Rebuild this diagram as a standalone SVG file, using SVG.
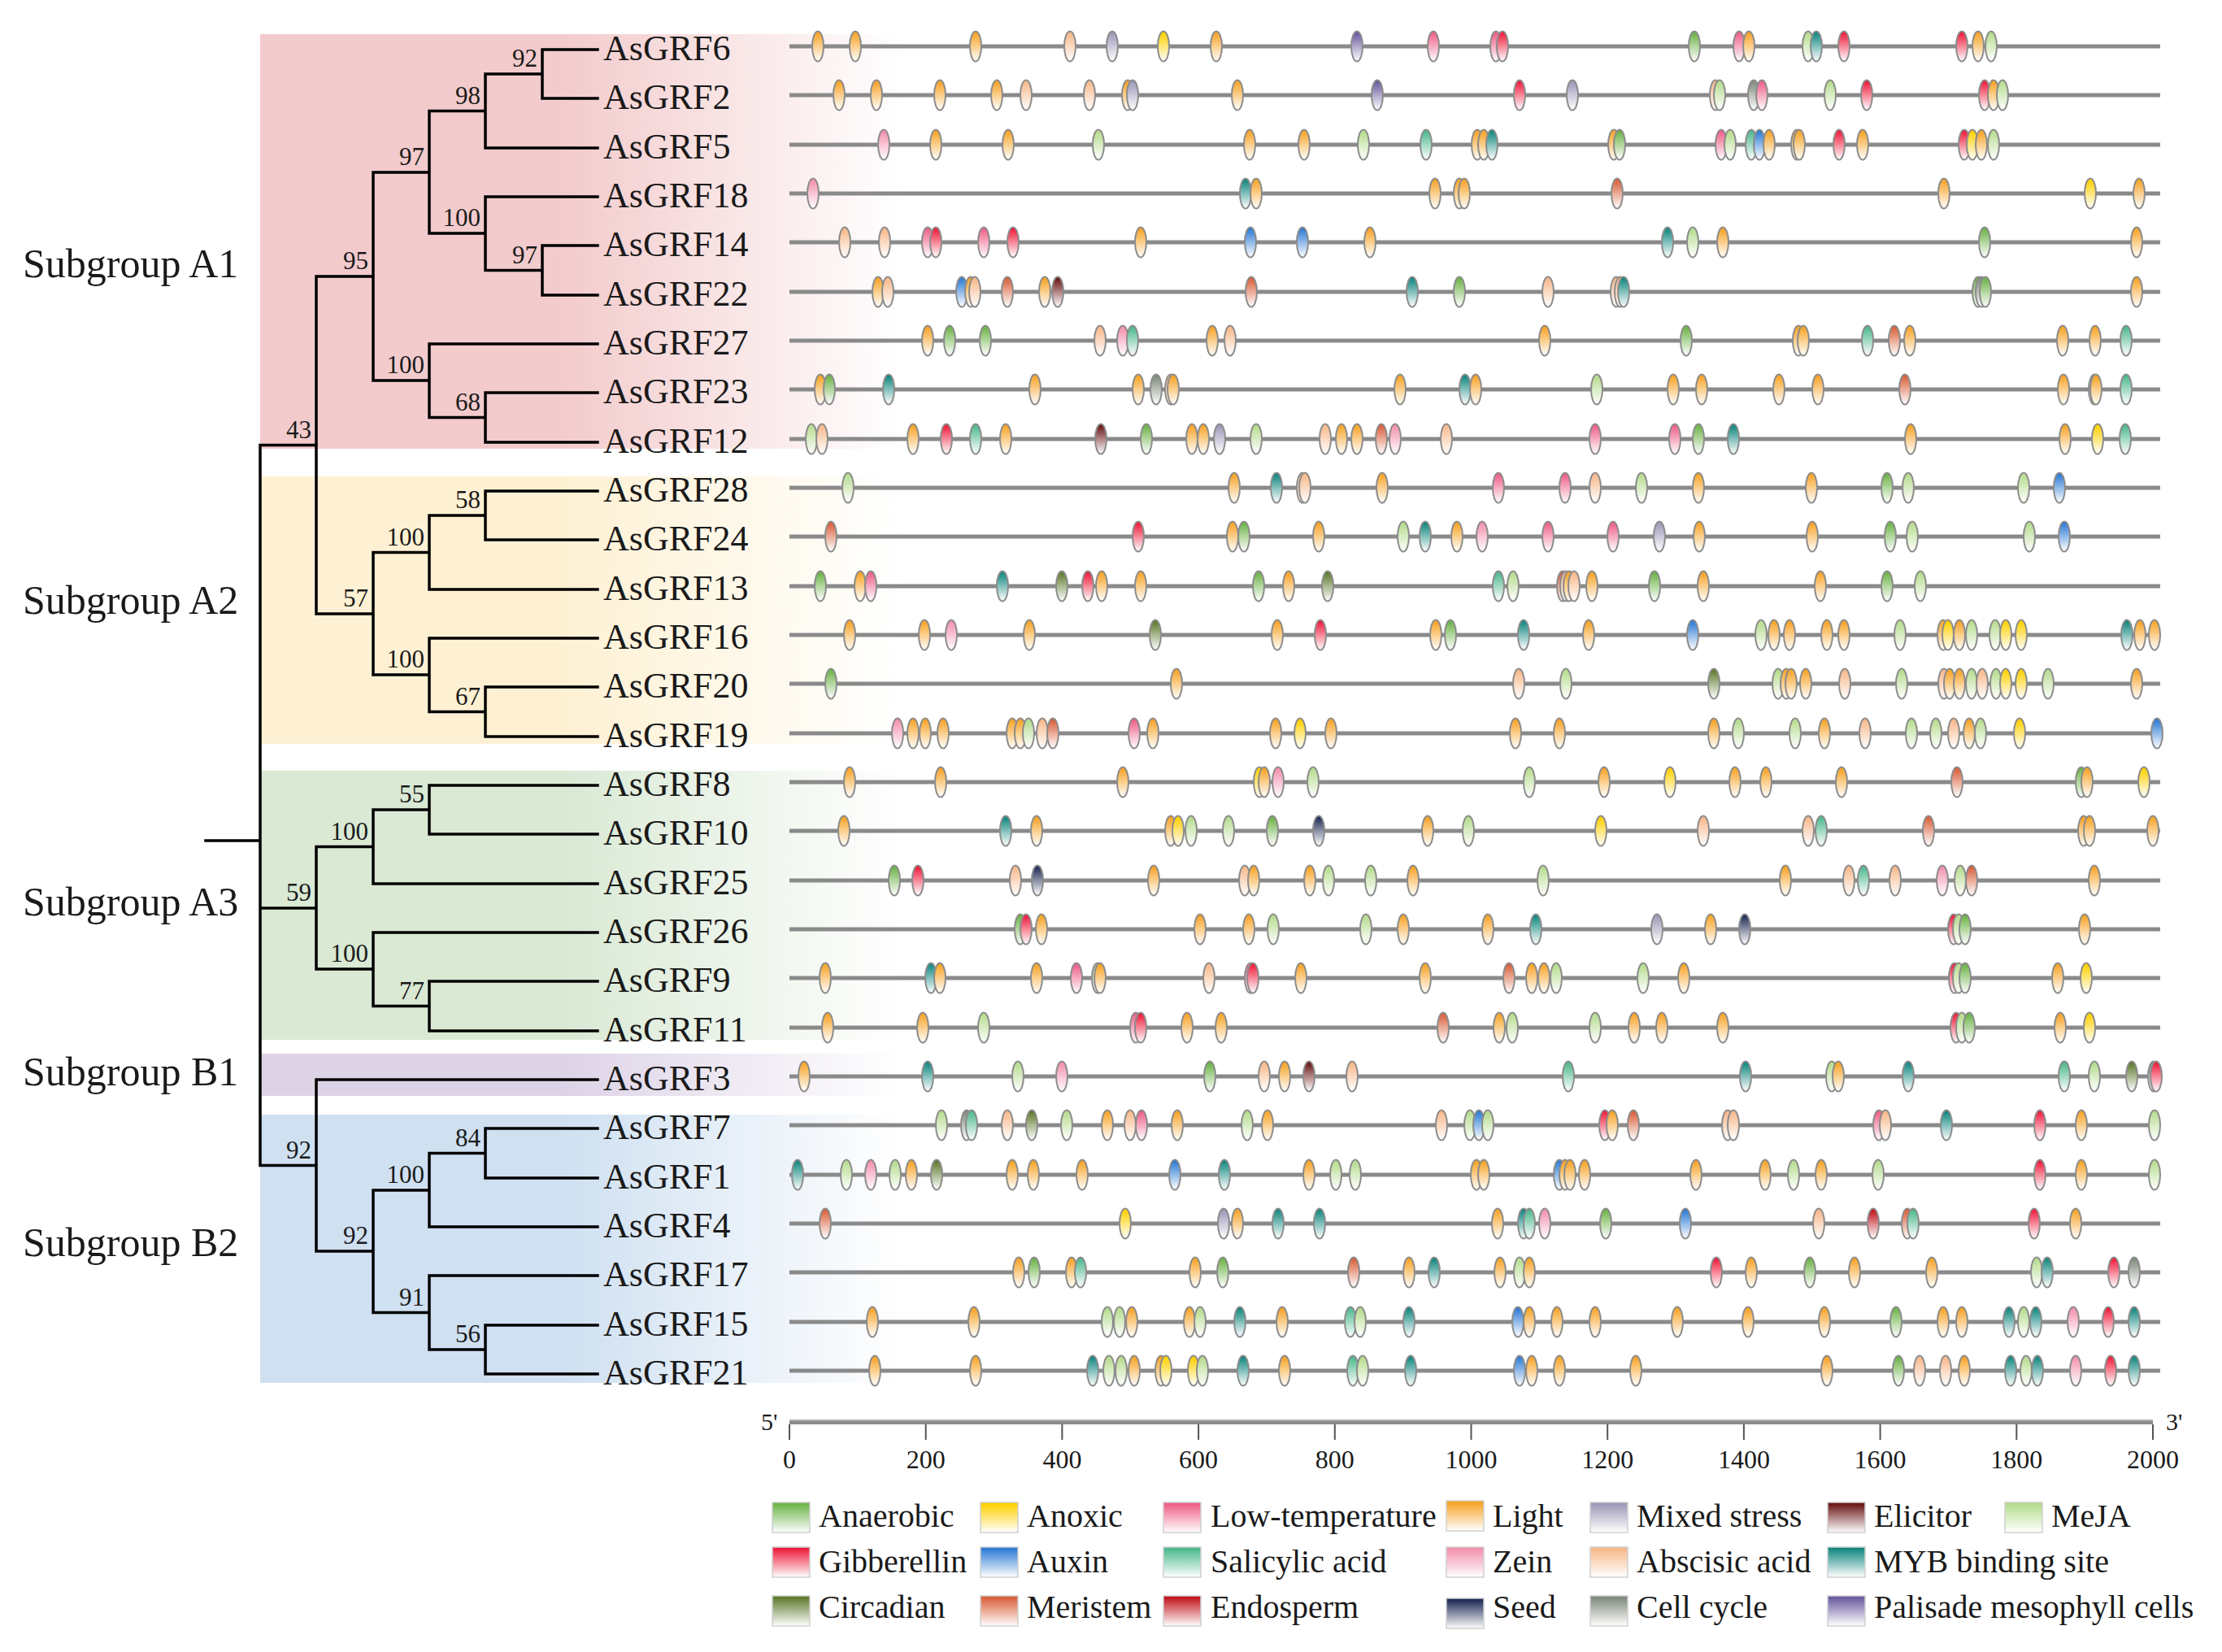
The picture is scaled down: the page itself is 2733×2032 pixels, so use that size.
<svg xmlns="http://www.w3.org/2000/svg" xmlns:xlink="http://www.w3.org/1999/xlink" width="2733" height="2032" viewBox="0 0 2733 2032">
<style>
text{font-family:"Liberation Serif","Times New Roman",serif;fill:#1a1a1a}
.lbl{font-size:44px}
.sg{font-size:50px}
.bs{font-size:31px;text-anchor:end}
.ax{font-size:32px;text-anchor:middle}
.lg{font-size:40px}
.trk{stroke:#8a8a8a;stroke-width:5}
.m{stroke:#8c8c8c;stroke-width:2}
.sw{stroke:#d0d0d0;stroke-width:1.5}
.tree{fill:none;stroke:#000;stroke-width:3.5;stroke-linecap:square}
</style>
<defs>
<linearGradient id="bgA1" x1="0" y1="0" x2="1" y2="0"><stop offset="0" stop-color="#f3cbcc"/><stop offset="0.47" stop-color="#f3cbcc"/><stop offset="1" stop-color="#f3cbcc" stop-opacity="0"/></linearGradient>
<linearGradient id="bgA2" x1="0" y1="0" x2="1" y2="0"><stop offset="0" stop-color="#fef1d3"/><stop offset="0.47" stop-color="#fef1d3"/><stop offset="1" stop-color="#fef1d3" stop-opacity="0"/></linearGradient>
<linearGradient id="bgA3" x1="0" y1="0" x2="1" y2="0"><stop offset="0" stop-color="#d9e9d4"/><stop offset="0.47" stop-color="#d9e9d4"/><stop offset="1" stop-color="#d9e9d4" stop-opacity="0"/></linearGradient>
<linearGradient id="bgB1" x1="0" y1="0" x2="1" y2="0"><stop offset="0" stop-color="#ddd3e7"/><stop offset="0.47" stop-color="#ddd3e7"/><stop offset="1" stop-color="#ddd3e7" stop-opacity="0"/></linearGradient>
<linearGradient id="bgB2" x1="0" y1="0" x2="1" y2="0"><stop offset="0" stop-color="#cfe0f1"/><stop offset="0.47" stop-color="#cfe0f1"/><stop offset="1" stop-color="#cfe0f1" stop-opacity="0"/></linearGradient>
<linearGradient id="gAN" x1="0" y1="0" x2="0" y2="1"><stop offset="0.05" stop-color="#6cb347"/><stop offset="1" stop-color="#fff"/></linearGradient>
<linearGradient id="gAX" x1="0" y1="0" x2="0" y2="1"><stop offset="0.05" stop-color="#ffd000"/><stop offset="1" stop-color="#fff"/></linearGradient>
<linearGradient id="gLT" x1="0" y1="0" x2="0" y2="1"><stop offset="0.05" stop-color="#ee5f88"/><stop offset="1" stop-color="#fff"/></linearGradient>
<linearGradient id="gLI" x1="0" y1="0" x2="0" y2="1"><stop offset="0.05" stop-color="#f7a325"/><stop offset="1" stop-color="#fff"/></linearGradient>
<linearGradient id="gMS" x1="0" y1="0" x2="0" y2="1"><stop offset="0.05" stop-color="#9c99b8"/><stop offset="1" stop-color="#fff"/></linearGradient>
<linearGradient id="gEL" x1="0" y1="0" x2="0" y2="1"><stop offset="0.05" stop-color="#6a1616"/><stop offset="1" stop-color="#fff"/></linearGradient>
<linearGradient id="gME" x1="0" y1="0" x2="0" y2="1"><stop offset="0.05" stop-color="#b5dc8d"/><stop offset="1" stop-color="#fff"/></linearGradient>
<linearGradient id="gGI" x1="0" y1="0" x2="0" y2="1"><stop offset="0.05" stop-color="#ef1c3c"/><stop offset="1" stop-color="#fff"/></linearGradient>
<linearGradient id="gAU" x1="0" y1="0" x2="0" y2="1"><stop offset="0.05" stop-color="#2d7bd5"/><stop offset="1" stop-color="#fff"/></linearGradient>
<linearGradient id="gSA" x1="0" y1="0" x2="0" y2="1"><stop offset="0.05" stop-color="#4db88d"/><stop offset="1" stop-color="#fff"/></linearGradient>
<linearGradient id="gZE" x1="0" y1="0" x2="0" y2="1"><stop offset="0.05" stop-color="#f390ad"/><stop offset="1" stop-color="#fff"/></linearGradient>
<linearGradient id="gAB" x1="0" y1="0" x2="0" y2="1"><stop offset="0.05" stop-color="#f8b88a"/><stop offset="1" stop-color="#fff"/></linearGradient>
<linearGradient id="gMY" x1="0" y1="0" x2="0" y2="1"><stop offset="0.05" stop-color="#11877f"/><stop offset="1" stop-color="#fff"/></linearGradient>
<linearGradient id="gCI" x1="0" y1="0" x2="0" y2="1"><stop offset="0.05" stop-color="#5e7a2c"/><stop offset="1" stop-color="#fff"/></linearGradient>
<linearGradient id="gMR" x1="0" y1="0" x2="0" y2="1"><stop offset="0.05" stop-color="#d95f3a"/><stop offset="1" stop-color="#fff"/></linearGradient>
<linearGradient id="gEN" x1="0" y1="0" x2="0" y2="1"><stop offset="0.05" stop-color="#c0141c"/><stop offset="1" stop-color="#fff"/></linearGradient>
<linearGradient id="gSE" x1="0" y1="0" x2="0" y2="1"><stop offset="0.05" stop-color="#1f2b55"/><stop offset="1" stop-color="#fff"/></linearGradient>
<linearGradient id="gCC" x1="0" y1="0" x2="0" y2="1"><stop offset="0.05" stop-color="#7f8a7b"/><stop offset="1" stop-color="#fff"/></linearGradient>
<linearGradient id="gPA" x1="0" y1="0" x2="0" y2="1"><stop offset="0.05" stop-color="#6a5a9f"/><stop offset="1" stop-color="#fff"/></linearGradient>
<ellipse id="AN" class="m" rx="7" ry="18.5" fill="url(#gAN)"/>
<ellipse id="AX" class="m" rx="7" ry="18.5" fill="url(#gAX)"/>
<ellipse id="LT" class="m" rx="7" ry="18.5" fill="url(#gLT)"/>
<ellipse id="LI" class="m" rx="7" ry="18.5" fill="url(#gLI)"/>
<ellipse id="MS" class="m" rx="7" ry="18.5" fill="url(#gMS)"/>
<ellipse id="EL" class="m" rx="7" ry="18.5" fill="url(#gEL)"/>
<ellipse id="ME" class="m" rx="7" ry="18.5" fill="url(#gME)"/>
<ellipse id="GI" class="m" rx="7" ry="18.5" fill="url(#gGI)"/>
<ellipse id="AU" class="m" rx="7" ry="18.5" fill="url(#gAU)"/>
<ellipse id="SA" class="m" rx="7" ry="18.5" fill="url(#gSA)"/>
<ellipse id="ZE" class="m" rx="7" ry="18.5" fill="url(#gZE)"/>
<ellipse id="AB" class="m" rx="7" ry="18.5" fill="url(#gAB)"/>
<ellipse id="MY" class="m" rx="7" ry="18.5" fill="url(#gMY)"/>
<ellipse id="CI" class="m" rx="7" ry="18.5" fill="url(#gCI)"/>
<ellipse id="MR" class="m" rx="7" ry="18.5" fill="url(#gMR)"/>
<ellipse id="EN" class="m" rx="7" ry="18.5" fill="url(#gEN)"/>
<ellipse id="SE" class="m" rx="7" ry="18.5" fill="url(#gSE)"/>
<ellipse id="CC" class="m" rx="7" ry="18.5" fill="url(#gCC)"/>
<ellipse id="PA" class="m" rx="7" ry="18.5" fill="url(#gPA)"/>
</defs>
<rect width="2733" height="2032" fill="#fff"/>

<g id="subgroup-backgrounds">
<rect x="320" y="42" width="790" height="510" fill="url(#bgA1)"/>
<rect x="320" y="586" width="790" height="329" fill="url(#bgA2)"/>
<rect x="320" y="948" width="790" height="331" fill="url(#bgA3)"/>
<rect x="320" y="1296" width="790" height="52" fill="url(#bgB1)"/>
<rect x="320" y="1371" width="790" height="330" fill="url(#bgB2)"/>
</g>

<g id="subgroup-labels">
<text class="sg" x="28" y="341">Subgroup A1</text>
<text class="sg" x="28" y="755">Subgroup A2</text>
<text class="sg" x="28" y="1126">Subgroup A3</text>
<text class="sg" x="28" y="1335">Subgroup B1</text>
<text class="sg" x="28" y="1545">Subgroup B2</text>
</g>

<g id="connectors">
<path class="tree" d="M667 61H735M667 121H735M667 61V121M597 91H667M597 182H735M597 91V182M528 136.5H597
M667 302H735M667 363H735M667 302V363M597 332.5H667M597 242H735M597 242V332.5M528 287H597M528 136.5V287M459 212H528
M597 483H735M597 544H735M597 483V544M528 513.5H597M528 423H735M528 423V513.5M459 468H528M459 212V468M389 340H459
M597 604H735M597 664H735M597 604V664M528 634H597M528 725H735M528 634V725M459 679.5H528
M597 845H735M597 906H735M597 845V906M528 875.5H597M528 785H735M528 785V875.5M459 830H528M459 679.5V830M389 755H459
M389 340V755M320 547.5H389
M528 966H735M528 1026H735M528 966V1026M459 996H528M459 1087H735M459 996V1087M389 1041.5H459
M528 1207H735M528 1268H735M528 1207V1268M459 1237.5H528M459 1147H735M459 1147V1237.5M389 1192H459M389 1041.5V1192M320 1117H389
M597 1388H735M597 1449H735M597 1388V1449M528 1418.5H597M528 1509H735M528 1418.5V1509M459 1464H528
M597 1630H735M597 1690H735M597 1630V1690M528 1660H597M528 1569H735M528 1569V1660M459 1614.5H528M459 1464V1614.5M389 1539H459
M389 1328H735M389 1328V1539M320 1433.5H389M320 547.5V1433.5M253 1034H320"/>
</g>

<g id="bootstrap">
<text class="bs" x="661" y="82">92</text>
<text class="bs" x="591" y="127.5">98</text>
<text class="bs" x="522" y="203">97</text>
<text class="bs" x="591" y="278">100</text>
<text class="bs" x="661" y="323.5">97</text>
<text class="bs" x="453" y="331">95</text>
<text class="bs" x="522" y="459">100</text>
<text class="bs" x="591" y="504.5">68</text>
<text class="bs" x="383" y="538.5">43</text>
<text class="bs" x="591" y="625">58</text>
<text class="bs" x="522" y="670.5">100</text>
<text class="bs" x="453" y="746">57</text>
<text class="bs" x="522" y="821">100</text>
<text class="bs" x="591" y="866.5">67</text>
<text class="bs" x="522" y="987">55</text>
<text class="bs" x="453" y="1032.5">100</text>
<text class="bs" x="383" y="1108">59</text>
<text class="bs" x="453" y="1183">100</text>
<text class="bs" x="522" y="1228.5">77</text>
<text class="bs" x="383" y="1424.5">92</text>
<text class="bs" x="591" y="1409.5">84</text>
<text class="bs" x="522" y="1455">100</text>
<text class="bs" x="453" y="1530">92</text>
<text class="bs" x="522" y="1605.5">91</text>
<text class="bs" x="591" y="1651">56</text>
</g>

<g id="AsGRF6" transform="translate(0,57)"><text class="lbl" x="742" y="17">AsGRF6</text><line class="trk" x1="971" x2="2657"/>
<use href="#LI" x="1006"/><use href="#LI" x="1052"/><use href="#LI" x="1200"/><use href="#AB" x="1316"/><use href="#MS" x="1368"/><use href="#AX" x="1431"/><use href="#LI" x="1496"/><use href="#PA" x="1669"/><use href="#LT" x="1763"/><use href="#LT" x="1840"/><use href="#GI" x="1848"/><use href="#AN" x="2084"/><use href="#LT" x="2139"/><use href="#LI" x="2151"/><use href="#ME" x="2224"/><use href="#MY" x="2234"/><use href="#GI" x="2268"/><use href="#GI" x="2413"/><use href="#LI" x="2433"/><use href="#ME" x="2449"/></g>

<g id="AsGRF2" transform="translate(0,117)"><text class="lbl" x="742" y="17">AsGRF2</text><line class="trk" x1="971" x2="2657"/>
<use href="#LI" x="1032"/><use href="#LI" x="1078"/><use href="#LI" x="1156"/><use href="#LI" x="1226"/><use href="#AB" x="1262"/><use href="#AB" x="1340"/><use href="#LI" x="1387"/><use href="#MS" x="1393"/><use href="#LI" x="1522"/><use href="#PA" x="1694"/><use href="#GI" x="1869"/><use href="#MS" x="1934"/><use href="#AB" x="2110"/><use href="#ME" x="2115"/><use href="#CC" x="2157"/><use href="#LT" x="2167"/><use href="#ME" x="2251"/><use href="#GI" x="2296"/><use href="#GI" x="2441"/><use href="#LI" x="2452"/><use href="#ME" x="2463"/></g>

<g id="AsGRF5" transform="translate(0,178)"><text class="lbl" x="742" y="17">AsGRF5</text><line class="trk" x1="971" x2="2657"/>
<use href="#ZE" x="1087"/><use href="#LI" x="1151"/><use href="#LI" x="1240"/><use href="#ME" x="1351"/><use href="#LI" x="1537"/><use href="#LI" x="1604"/><use href="#ME" x="1677"/><use href="#SA" x="1754"/><use href="#LI" x="1817"/><use href="#LI" x="1825"/><use href="#MY" x="1835"/><use href="#LI" x="1985"/><use href="#AN" x="1992"/><use href="#LT" x="2117"/><use href="#ME" x="2128"/><use href="#SA" x="2154"/><use href="#AU" x="2164"/><use href="#LI" x="2176"/><use href="#LI" x="2210"/><use href="#LI" x="2213"/><use href="#GI" x="2262"/><use href="#LI" x="2291"/><use href="#GI" x="2416"/><use href="#AX" x="2426"/><use href="#LI" x="2437"/><use href="#ME" x="2452"/></g>

<g id="AsGRF18" transform="translate(0,238)"><text class="lbl" x="742" y="17">AsGRF18</text><line class="trk" x1="971" x2="2657"/>
<use href="#ZE" x="1000"/><use href="#MY" x="1532"/><use href="#LI" x="1545"/><use href="#LI" x="1765"/><use href="#LI" x="1795"/><use href="#LI" x="1801"/><use href="#MR" x="1989"/><use href="#LI" x="2391"/><use href="#AX" x="2571"/><use href="#LI" x="2631"/></g>

<g id="AsGRF14" transform="translate(0,298)"><text class="lbl" x="742" y="17">AsGRF14</text><line class="trk" x1="971" x2="2657"/>
<use href="#AB" x="1039"/><use href="#AB" x="1088"/><use href="#LT" x="1141"/><use href="#GI" x="1151"/><use href="#LT" x="1210"/><use href="#GI" x="1246"/><use href="#LI" x="1403"/><use href="#AU" x="1538"/><use href="#AU" x="1602"/><use href="#LI" x="1685"/><use href="#MY" x="2051"/><use href="#ME" x="2082"/><use href="#LI" x="2119"/><use href="#AN" x="2441"/><use href="#LI" x="2628"/></g>

<g id="AsGRF22" transform="translate(0,359)"><text class="lbl" x="742" y="17">AsGRF22</text><line class="trk" x1="971" x2="2657"/>
<use href="#LI" x="1080"/><use href="#AB" x="1092"/><use href="#AU" x="1183"/><use href="#LI" x="1194"/><use href="#AB" x="1199"/><use href="#MR" x="1239"/><use href="#LI" x="1285"/><use href="#EL" x="1301"/><use href="#MR" x="1539"/><use href="#MY" x="1737"/><use href="#AN" x="1795"/><use href="#AB" x="1904"/><use href="#AB" x="1988"/><use href="#AB" x="1993"/><use href="#MY" x="1997"/><use href="#AN" x="2433"/><use href="#CC" x="2437"/><use href="#AN" x="2442"/><use href="#LI" x="2628"/></g>

<g id="AsGRF27" transform="translate(0,419)"><text class="lbl" x="742" y="17">AsGRF27</text><line class="trk" x1="971" x2="2657"/>
<use href="#LI" x="1141"/><use href="#AN" x="1168"/><use href="#AN" x="1212"/><use href="#AB" x="1353"/><use href="#ZE" x="1381"/><use href="#SA" x="1393"/><use href="#LI" x="1491"/><use href="#AB" x="1513"/><use href="#LI" x="1900"/><use href="#AN" x="2074"/><use href="#LI" x="2212"/><use href="#LI" x="2218"/><use href="#SA" x="2297"/><use href="#MR" x="2330"/><use href="#LI" x="2349"/><use href="#LI" x="2537"/><use href="#LI" x="2577"/><use href="#SA" x="2615"/></g>

<g id="AsGRF23" transform="translate(0,479)"><text class="lbl" x="742" y="17">AsGRF23</text><line class="trk" x1="971" x2="2657"/>
<use href="#LI" x="1009"/><use href="#AN" x="1020"/><use href="#MY" x="1093"/><use href="#LI" x="1273"/><use href="#LI" x="1400"/><use href="#CC" x="1422"/><use href="#AB" x="1440"/><use href="#LI" x="1443"/><use href="#LI" x="1722"/><use href="#MY" x="1802"/><use href="#LI" x="1815"/><use href="#ME" x="1964"/><use href="#LI" x="2058"/><use href="#LI" x="2093"/><use href="#LI" x="2188"/><use href="#LI" x="2236"/><use href="#MR" x="2343"/><use href="#LI" x="2538"/><use href="#AB" x="2576"/><use href="#LI" x="2578"/><use href="#SA" x="2615"/></g>

<g id="AsGRF12" transform="translate(0,540)"><text class="lbl" x="742" y="17">AsGRF12</text><line class="trk" x1="971" x2="2657"/>
<use href="#ME" x="998"/><use href="#AB" x="1011"/><use href="#LI" x="1123"/><use href="#GI" x="1164"/><use href="#SA" x="1200"/><use href="#LI" x="1237"/><use href="#EL" x="1354"/><use href="#AN" x="1410"/><use href="#LI" x="1466"/><use href="#LI" x="1480"/><use href="#MS" x="1500"/><use href="#ME" x="1545"/><use href="#AB" x="1630"/><use href="#LI" x="1650"/><use href="#LI" x="1669"/><use href="#MR" x="1699"/><use href="#ZE" x="1716"/><use href="#AB" x="1779"/><use href="#LT" x="1962"/><use href="#LT" x="2060"/><use href="#AN" x="2089"/><use href="#MY" x="2132"/><use href="#LI" x="2350"/><use href="#LI" x="2540"/><use href="#AX" x="2580"/><use href="#SA" x="2614"/></g>

<g id="AsGRF28" transform="translate(0,600)"><text class="lbl" x="742" y="17">AsGRF28</text><line class="trk" x1="971" x2="2657"/>
<use href="#ME" x="1043"/><use href="#LI" x="1518"/><use href="#MY" x="1570"/><use href="#AB" x="1602"/><use href="#AB" x="1605"/><use href="#LI" x="1700"/><use href="#LT" x="1843"/><use href="#LT" x="1925"/><use href="#AB" x="1962"/><use href="#ME" x="2019"/><use href="#LI" x="2089"/><use href="#LI" x="2228"/><use href="#AN" x="2321"/><use href="#ME" x="2347"/><use href="#ME" x="2489"/><use href="#AU" x="2533"/></g>

<g id="AsGRF24" transform="translate(0,660)"><text class="lbl" x="742" y="17">AsGRF24</text><line class="trk" x1="971" x2="2657"/>
<use href="#MR" x="1022"/><use href="#GI" x="1400"/><use href="#LI" x="1516"/><use href="#AN" x="1530"/><use href="#LI" x="1622"/><use href="#ME" x="1726"/><use href="#MY" x="1753"/><use href="#LI" x="1792"/><use href="#ZE" x="1823"/><use href="#LT" x="1904"/><use href="#LT" x="1984"/><use href="#MS" x="2041"/><use href="#LI" x="2090"/><use href="#LI" x="2229"/><use href="#AN" x="2325"/><use href="#ME" x="2352"/><use href="#ME" x="2496"/><use href="#AU" x="2539"/></g>

<g id="AsGRF13" transform="translate(0,721)"><text class="lbl" x="742" y="17">AsGRF13</text><line class="trk" x1="971" x2="2657"/>
<use href="#AN" x="1009"/><use href="#LI" x="1058"/><use href="#LT" x="1071"/><use href="#MY" x="1233"/><use href="#CI" x="1306"/><use href="#GI" x="1338"/><use href="#LI" x="1355"/><use href="#LI" x="1403"/><use href="#AN" x="1548"/><use href="#LI" x="1585"/><use href="#CI" x="1633"/><use href="#SA" x="1843"/><use href="#ME" x="1861"/><use href="#MR" x="1922"/><use href="#AB" x="1926"/><use href="#LI" x="1930"/><use href="#AB" x="1936"/><use href="#LI" x="1958"/><use href="#AN" x="2035"/><use href="#LI" x="2095"/><use href="#LI" x="2239"/><use href="#AN" x="2321"/><use href="#ME" x="2362"/></g>

<g id="AsGRF16" transform="translate(0,781)"><text class="lbl" x="742" y="17">AsGRF16</text><line class="trk" x1="971" x2="2657"/>
<use href="#LI" x="1045"/><use href="#LI" x="1137"/><use href="#ZE" x="1170"/><use href="#LI" x="1266"/><use href="#CI" x="1421"/><use href="#LI" x="1571"/><use href="#GI" x="1624"/><use href="#LI" x="1766"/><use href="#AN" x="1784"/><use href="#MY" x="1874"/><use href="#LI" x="1954"/><use href="#AU" x="2082"/><use href="#ME" x="2166"/><use href="#LI" x="2182"/><use href="#LI" x="2201"/><use href="#LI" x="2247"/><use href="#LI" x="2268"/><use href="#ME" x="2337"/><use href="#LI" x="2390"/><use href="#AX" x="2396"/><use href="#LI" x="2410"/><use href="#ME" x="2425"/><use href="#ME" x="2454"/><use href="#AX" x="2467"/><use href="#AX" x="2486"/><use href="#MY" x="2616"/><use href="#LI" x="2632"/><use href="#LI" x="2650"/></g>

<g id="AsGRF20" transform="translate(0,841)"><text class="lbl" x="742" y="17">AsGRF20</text><line class="trk" x1="971" x2="2657"/>
<use href="#AN" x="1022"/><use href="#LI" x="1447"/><use href="#AB" x="1868"/><use href="#ME" x="1926"/><use href="#CI" x="2108"/><use href="#ME" x="2187"/><use href="#LI" x="2197"/><use href="#LI" x="2203"/><use href="#LI" x="2221"/><use href="#AB" x="2269"/><use href="#ME" x="2339"/><use href="#AB" x="2391"/><use href="#LI" x="2398"/><use href="#LI" x="2410"/><use href="#ME" x="2425"/><use href="#AB" x="2438"/><use href="#ME" x="2455"/><use href="#AX" x="2467"/><use href="#AX" x="2486"/><use href="#ME" x="2519"/><use href="#LI" x="2628"/></g>

<g id="AsGRF19" transform="translate(0,902)"><text class="lbl" x="742" y="17">AsGRF19</text><line class="trk" x1="971" x2="2657"/>
<use href="#ZE" x="1104"/><use href="#LI" x="1123"/><use href="#LI" x="1138"/><use href="#LI" x="1160"/><use href="#LI" x="1245"/><use href="#LI" x="1255"/><use href="#ME" x="1265"/><use href="#AB" x="1282"/><use href="#MR" x="1295"/><use href="#LT" x="1395"/><use href="#LI" x="1418"/><use href="#LI" x="1569"/><use href="#AX" x="1599"/><use href="#LI" x="1637"/><use href="#LI" x="1864"/><use href="#LI" x="1918"/><use href="#LI" x="2108"/><use href="#ME" x="2138"/><use href="#ME" x="2208"/><use href="#LI" x="2244"/><use href="#AB" x="2294"/><use href="#ME" x="2351"/><use href="#ME" x="2381"/><use href="#AB" x="2403"/><use href="#LI" x="2422"/><use href="#ME" x="2436"/><use href="#AX" x="2484"/><use href="#AU" x="2653"/></g>

<g id="AsGRF8" transform="translate(0,962)"><text class="lbl" x="742" y="17">AsGRF8</text><line class="trk" x1="971" x2="2657"/>
<use href="#LI" x="1045"/><use href="#LI" x="1157"/><use href="#LI" x="1381"/><use href="#AX" x="1549"/><use href="#LI" x="1555"/><use href="#ZE" x="1572"/><use href="#ME" x="1615"/><use href="#ME" x="1881"/><use href="#LI" x="1973"/><use href="#AX" x="2054"/><use href="#LI" x="2134"/><use href="#LI" x="2172"/><use href="#LI" x="2265"/><use href="#MR" x="2407"/><use href="#AN" x="2560"/><use href="#LI" x="2567"/><use href="#AX" x="2637"/></g>

<g id="AsGRF10" transform="translate(0,1022)"><text class="lbl" x="742" y="17">AsGRF10</text><line class="trk" x1="971" x2="2657"/>
<use href="#LI" x="1038"/><use href="#MY" x="1237"/><use href="#LI" x="1275"/><use href="#LI" x="1440"/><use href="#AX" x="1449"/><use href="#ME" x="1465"/><use href="#ME" x="1511"/><use href="#AN" x="1565"/><use href="#SE" x="1622"/><use href="#LI" x="1756"/><use href="#ME" x="1806"/><use href="#AX" x="1969"/><use href="#AB" x="2095"/><use href="#AB" x="2224"/><use href="#SA" x="2240"/><use href="#MR" x="2372"/><use href="#LI" x="2563"/><use href="#LI" x="2570"/><use href="#LI" x="2648"/></g>

<g id="AsGRF25" transform="translate(0,1083)"><text class="lbl" x="742" y="17">AsGRF25</text><line class="trk" x1="971" x2="2657"/>
<use href="#AN" x="1100"/><use href="#GI" x="1129"/><use href="#AB" x="1249"/><use href="#SE" x="1276"/><use href="#LI" x="1419"/><use href="#AB" x="1531"/><use href="#LI" x="1542"/><use href="#LI" x="1611"/><use href="#ME" x="1634"/><use href="#ME" x="1686"/><use href="#LI" x="1738"/><use href="#ME" x="1898"/><use href="#LI" x="2196"/><use href="#AB" x="2274"/><use href="#SA" x="2292"/><use href="#AB" x="2331"/><use href="#ZE" x="2389"/><use href="#ME" x="2411"/><use href="#MR" x="2425"/><use href="#LI" x="2576"/></g>

<g id="AsGRF26" transform="translate(0,1143)"><text class="lbl" x="742" y="17">AsGRF26</text><line class="trk" x1="971" x2="2657"/>
<use href="#AN" x="1255"/><use href="#GI" x="1262"/><use href="#LI" x="1281"/><use href="#LI" x="1476"/><use href="#LI" x="1536"/><use href="#ME" x="1566"/><use href="#ME" x="1680"/><use href="#LI" x="1726"/><use href="#LI" x="1830"/><use href="#MY" x="1889"/><use href="#MS" x="2038"/><use href="#LI" x="2104"/><use href="#SE" x="2146"/><use href="#GI" x="2403"/><use href="#ME" x="2409"/><use href="#AN" x="2417"/><use href="#LI" x="2564"/></g>

<g id="AsGRF9" transform="translate(0,1203)"><text class="lbl" x="742" y="17">AsGRF9</text><line class="trk" x1="971" x2="2657"/>
<use href="#LI" x="1015"/><use href="#MY" x="1145"/><use href="#LI" x="1156"/><use href="#LI" x="1275"/><use href="#LT" x="1324"/><use href="#ME" x="1350"/><use href="#LI" x="1353"/><use href="#AB" x="1487"/><use href="#LT" x="1538"/><use href="#GI" x="1541"/><use href="#LI" x="1600"/><use href="#LI" x="1753"/><use href="#MR" x="1856"/><use href="#LI" x="1884"/><use href="#LI" x="1899"/><use href="#ME" x="1914"/><use href="#ME" x="2021"/><use href="#LI" x="2071"/><use href="#GI" x="2404"/><use href="#ME" x="2409"/><use href="#AN" x="2417"/><use href="#LI" x="2531"/><use href="#AX" x="2566"/></g>

<g id="AsGRF11" transform="translate(0,1264)"><text class="lbl" x="742" y="17">AsGRF11</text><line class="trk" x1="971" x2="2657"/>
<use href="#LI" x="1018"/><use href="#LI" x="1135"/><use href="#ME" x="1210"/><use href="#LT" x="1397"/><use href="#GI" x="1403"/><use href="#LI" x="1460"/><use href="#LI" x="1502"/><use href="#MR" x="1775"/><use href="#LI" x="1844"/><use href="#ME" x="1860"/><use href="#ME" x="1962"/><use href="#LI" x="2010"/><use href="#LI" x="2044"/><use href="#LI" x="2119"/><use href="#GI" x="2406"/><use href="#ME" x="2413"/><use href="#AN" x="2422"/><use href="#LI" x="2534"/><use href="#AX" x="2570"/></g>

<g id="AsGRF3" transform="translate(0,1324)"><text class="lbl" x="742" y="17">AsGRF3</text><line class="trk" x1="971" x2="2657"/>
<use href="#LI" x="989"/><use href="#MY" x="1141"/><use href="#ME" x="1252"/><use href="#ZE" x="1306"/><use href="#AN" x="1488"/><use href="#AB" x="1555"/><use href="#LI" x="1580"/><use href="#EL" x="1610"/><use href="#AB" x="1663"/><use href="#SA" x="1929"/><use href="#MY" x="2147"/><use href="#ME" x="2253"/><use href="#LI" x="2261"/><use href="#MY" x="2347"/><use href="#SA" x="2539"/><use href="#ME" x="2576"/><use href="#CI" x="2622"/><use href="#CC" x="2649"/><use href="#GI" x="2652"/></g>

<g id="AsGRF7" transform="translate(0,1384)"><text class="lbl" x="742" y="17">AsGRF7</text><line class="trk" x1="971" x2="2657"/>
<use href="#ME" x="1158"/><use href="#CC" x="1189"/><use href="#SA" x="1195"/><use href="#AB" x="1239"/><use href="#CI" x="1269"/><use href="#ME" x="1312"/><use href="#LI" x="1362"/><use href="#AB" x="1390"/><use href="#LT" x="1404"/><use href="#LI" x="1448"/><use href="#ME" x="1534"/><use href="#LI" x="1559"/><use href="#AB" x="1773"/><use href="#ME" x="1808"/><use href="#AU" x="1819"/><use href="#ME" x="1830"/><use href="#GI" x="1974"/><use href="#LI" x="1983"/><use href="#MR" x="2009"/><use href="#AB" x="2125"/><use href="#AB" x="2132"/><use href="#LT" x="2311"/><use href="#AB" x="2319"/><use href="#MY" x="2394"/><use href="#GI" x="2509"/><use href="#LI" x="2560"/><use href="#ME" x="2650"/></g>

<g id="AsGRF1" transform="translate(0,1445)"><text class="lbl" x="742" y="17">AsGRF1</text><line class="trk" x1="971" x2="2657"/>
<use href="#MY" x="981"/><use href="#ME" x="1041"/><use href="#ZE" x="1071"/><use href="#ME" x="1101"/><use href="#LI" x="1121"/><use href="#CI" x="1152"/><use href="#LI" x="1245"/><use href="#LI" x="1271"/><use href="#LI" x="1331"/><use href="#AU" x="1445"/><use href="#MY" x="1506"/><use href="#LI" x="1610"/><use href="#ME" x="1643"/><use href="#ME" x="1667"/><use href="#LI" x="1816"/><use href="#LI" x="1825"/><use href="#AU" x="1918"/><use href="#LI" x="1925"/><use href="#LI" x="1931"/><use href="#LI" x="1949"/><use href="#LI" x="2086"/><use href="#LI" x="2171"/><use href="#ME" x="2206"/><use href="#LI" x="2240"/><use href="#ME" x="2310"/><use href="#GI" x="2509"/><use href="#LI" x="2560"/><use href="#ME" x="2650"/></g>

<g id="AsGRF4" transform="translate(0,1505)"><text class="lbl" x="742" y="17">AsGRF4</text><line class="trk" x1="971" x2="2657"/>
<use href="#MR" x="1015"/><use href="#AX" x="1384"/><use href="#MS" x="1505"/><use href="#LI" x="1522"/><use href="#MY" x="1572"/><use href="#MY" x="1623"/><use href="#LI" x="1842"/><use href="#MY" x="1874"/><use href="#SA" x="1881"/><use href="#ZE" x="1900"/><use href="#AN" x="1975"/><use href="#AU" x="2073"/><use href="#AB" x="2237"/><use href="#EN" x="2304"/><use href="#MR" x="2346"/><use href="#SA" x="2353"/><use href="#GI" x="2502"/><use href="#LI" x="2553"/></g>

<g id="AsGRF17" transform="translate(0,1565)"><text class="lbl" x="742" y="17">AsGRF17</text><line class="trk" x1="971" x2="2657"/>
<use href="#LI" x="1253"/><use href="#AN" x="1272"/><use href="#LI" x="1318"/><use href="#SA" x="1329"/><use href="#LI" x="1470"/><use href="#AN" x="1504"/><use href="#MR" x="1665"/><use href="#LI" x="1733"/><use href="#MY" x="1764"/><use href="#LI" x="1845"/><use href="#ME" x="1869"/><use href="#LI" x="1881"/><use href="#GI" x="2111"/><use href="#LI" x="2154"/><use href="#AN" x="2226"/><use href="#LI" x="2281"/><use href="#LI" x="2376"/><use href="#ME" x="2505"/><use href="#MY" x="2518"/><use href="#GI" x="2600"/><use href="#CC" x="2625"/></g>

<g id="AsGRF15" transform="translate(0,1626)"><text class="lbl" x="742" y="17">AsGRF15</text><line class="trk" x1="971" x2="2657"/>
<use href="#LI" x="1073"/><use href="#LI" x="1198"/><use href="#ME" x="1362"/><use href="#ME" x="1377"/><use href="#LI" x="1392"/><use href="#LI" x="1463"/><use href="#ME" x="1476"/><use href="#MY" x="1525"/><use href="#LI" x="1577"/><use href="#SA" x="1661"/><use href="#ME" x="1673"/><use href="#MY" x="1733"/><use href="#AU" x="1867"/><use href="#LI" x="1881"/><use href="#LI" x="1915"/><use href="#LI" x="1962"/><use href="#LI" x="2063"/><use href="#LI" x="2150"/><use href="#LI" x="2244"/><use href="#AN" x="2332"/><use href="#LI" x="2390"/><use href="#LI" x="2413"/><use href="#MY" x="2471"/><use href="#ME" x="2489"/><use href="#MY" x="2504"/><use href="#ZE" x="2550"/><use href="#GI" x="2593"/><use href="#MY" x="2625"/></g>

<g id="AsGRF21" transform="translate(0,1686)"><text class="lbl" x="742" y="17">AsGRF21</text><line class="trk" x1="971" x2="2657"/>
<use href="#LI" x="1076"/><use href="#LI" x="1200"/><use href="#MY" x="1344"/><use href="#ME" x="1364"/><use href="#ME" x="1379"/><use href="#LI" x="1395"/><use href="#LI" x="1428"/><use href="#AX" x="1434"/><use href="#AX" x="1468"/><use href="#ME" x="1479"/><use href="#MY" x="1529"/><use href="#LI" x="1580"/><use href="#SA" x="1664"/><use href="#ME" x="1676"/><use href="#MY" x="1735"/><use href="#AU" x="1869"/><use href="#LI" x="1884"/><use href="#LI" x="1918"/><use href="#LI" x="2012"/><use href="#LI" x="2247"/><use href="#AN" x="2335"/><use href="#AB" x="2361"/><use href="#AB" x="2393"/><use href="#LI" x="2416"/><use href="#MY" x="2473"/><use href="#ME" x="2492"/><use href="#MY" x="2506"/><use href="#ZE" x="2553"/><use href="#GI" x="2596"/><use href="#MY" x="2625"/></g>

<g id="axis">
<line x1="971" y1="1749" x2="2648" y2="1749" stroke="#8a8a8a" stroke-width="6"/>
<line x1="971" y1="1747" x2="2648" y2="1747" stroke="#bdbdbd" stroke-width="1.5"/>
<path d="M971 1752V1771M1138.7 1752V1771M1306.4 1752V1771M1474.1 1752V1771M1641.8 1752V1771M1809.5 1752V1771M1977.2 1752V1771M2144.9 1752V1771M2312.6 1752V1771M2480.3 1752V1771M2648 1752V1771" stroke="#555" stroke-width="2"/>
<text class="ax" x="971" y="1806">0</text>
<text class="ax" x="1138.7" y="1806">200</text>
<text class="ax" x="1306.4" y="1806">400</text>
<text class="ax" x="1474.1" y="1806">600</text>
<text class="ax" x="1641.8" y="1806">800</text>
<text class="ax" x="1809.5" y="1806">1000</text>
<text class="ax" x="1977.2" y="1806">1200</text>
<text class="ax" x="2144.9" y="1806">1400</text>
<text class="ax" x="2312.6" y="1806">1600</text>
<text class="ax" x="2480.3" y="1806">1800</text>
<text class="ax" x="2648" y="1806">2000</text>
<text x="936" y="1759" font-size="30">5'</text>
<text x="2664" y="1759" font-size="30">3'</text>
</g>

<g id="legend">
<rect class="sw" x="950" y="1848" width="46" height="37" fill="url(#gAN)"/><text class="lg" x="1007" y="1878">Anaerobic</text>
<rect class="sw" x="1206" y="1848" width="46" height="37" fill="url(#gAX)"/><text class="lg" x="1263" y="1878">Anoxic</text>
<rect class="sw" x="1431" y="1848" width="46" height="37" fill="url(#gLT)"/><text class="lg" x="1489" y="1878">Low-temperature</text>
<rect class="sw" x="1779" y="1846" width="46" height="37" fill="url(#gLI)"/><text class="lg" x="1836" y="1878">Light</text>
<rect class="sw" x="1956" y="1848" width="46" height="37" fill="url(#gMS)"/><text class="lg" x="2013" y="1878">Mixed stress</text>
<rect class="sw" x="2248" y="1848" width="46" height="37" fill="url(#gEL)"/><text class="lg" x="2305" y="1878">Elicitor</text>
<rect class="sw" x="2466" y="1848" width="46" height="37" fill="url(#gME)"/><text class="lg" x="2523" y="1878">MeJA</text>
<rect class="sw" x="950" y="1903" width="46" height="37" fill="url(#gGI)"/><text class="lg" x="1007" y="1934">Gibberellin</text>
<rect class="sw" x="1206" y="1903" width="46" height="37" fill="url(#gAU)"/><text class="lg" x="1263" y="1934">Auxin</text>
<rect class="sw" x="1431" y="1903" width="46" height="37" fill="url(#gSA)"/><text class="lg" x="1489" y="1934">Salicylic acid</text>
<rect class="sw" x="1779" y="1903" width="46" height="37" fill="url(#gZE)"/><text class="lg" x="1836" y="1934">Zein</text>
<rect class="sw" x="1956" y="1903" width="46" height="37" fill="url(#gAB)"/><text class="lg" x="2013" y="1934">Abscisic acid</text>
<rect class="sw" x="2248" y="1903" width="46" height="37" fill="url(#gMY)"/><text class="lg" x="2305" y="1934">MYB binding site</text>
<rect class="sw" x="950" y="1963" width="46" height="37" fill="url(#gCI)"/><text class="lg" x="1007" y="1990">Circadian</text>
<rect class="sw" x="1206" y="1963" width="46" height="37" fill="url(#gMR)"/><text class="lg" x="1263" y="1990">Meristem</text>
<rect class="sw" x="1431" y="1963" width="46" height="37" fill="url(#gEN)"/><text class="lg" x="1489" y="1990">Endosperm</text>
<rect class="sw" x="1779" y="1966" width="46" height="37" fill="url(#gSE)"/><text class="lg" x="1836" y="1990">Seed</text>
<rect class="sw" x="1956" y="1963" width="46" height="37" fill="url(#gCC)"/><text class="lg" x="2013" y="1990">Cell cycle</text>
<rect class="sw" x="2248" y="1963" width="46" height="37" fill="url(#gPA)"/><text class="lg" x="2305" y="1990">Palisade mesophyll cells</text>
</g>
</svg>
